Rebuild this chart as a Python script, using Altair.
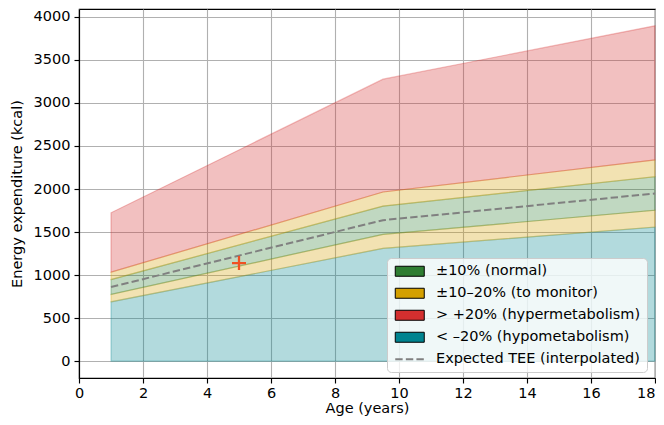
import altair as alt
import pandas as pd

# ---- data ----
ages = [1, 9.5, 18]
expected_tee = [862, 1638, 1948]
measured_age = [5]
measured_tee = [1140]
x_ticks = [0, 2, 4, 6, 8, 10, 12, 14, 16, 18]
y_ticks = [0, 500, 1000, 1500, 2000, 2500, 3000, 3500, 4000]

# bands as fractions of the expected TEE
band_ids = ["hypo", "low_monitor", "normal", "high_monitor", "hyper"]
band_lo = [0.0, 0.8, 0.9, 1.1, 1.2]
band_hi = [0.8, 0.9, 1.1, 1.2, 2.0]
band_colors = ["#00838f", "#d4a000", "#2e7d32", "#d4a000", "#d32f2f"]

legend_labels = ["±10% (normal)", "±10–20% (to monitor)", "> +20% (hypermetabolism)",
                 "< –20% (hypometabolism)", "Expected TEE (interpolated)"]
legend_fills = ["#2e7d32", "#d4a000", "#d32f2f", "#00838f", "#808080"]
legend_strokes = ["black", "black", "black", "black", "transparent"]
rect_path = "M-2.9,-1H2.9V1H-2.9Z"
dash_path = ("M-2.9,-0.2H-1.42V0.2H-2.9Z M-0.78,-0.2H0.7V0.2H-0.78Z "
             "M1.33,-0.2H2.81V0.2H1.33Z")
legend_shapes = [rect_path, rect_path, rect_path, rect_path, dash_path]

FONT = "DejaVu Sans"
FS = 14.5

xscale = alt.Scale(domain=[0, 18], nice=False, zero=False)
yscale = alt.Scale(domain=[-195, 4091], nice=False, zero=False)
xaxis = alt.Axis(values=x_ticks, title="Age (years)", format="d", labelFlush=False,
                 labelAlign={"condition": {"test": "datum.value >= 18", "value": "right"},
                             "value": "center"})
yaxis = alt.Axis(values=y_ticks, title="Energy expenditure (kcal)", format="d")

layers = []
for bid, lo, hi, col in zip(band_ids, band_lo, band_hi, band_colors):
    df = pd.DataFrame({
        "x": ages,
        "lo": [e * lo for e in expected_tee],
        "hi": [e * hi for e in expected_tee],
    })
    layers.append(
        alt.Chart(df).mark_area(fill=col, stroke=col, fillOpacity=0.3,
                                strokeOpacity=0.3, strokeWidth=1.2)
        .encode(x=alt.X("x:Q", scale=xscale, axis=xaxis),
                y=alt.Y("lo:Q", scale=yscale, axis=yaxis),
                y2="hi:Q")
    )

line_df = pd.DataFrame({"x": ages, "lo": expected_tee})
layers.append(
    alt.Chart(line_df).mark_line(color="#808080", strokeWidth=2, strokeDash=[7.4, 3.2])
    .encode(x="x:Q", y="lo:Q")
)

pt_df = pd.DataFrame({"x": measured_age, "lo": measured_tee})
layers.append(
    alt.Chart(pt_df).mark_point(shape="M-1,0H1M0,-1V1", filled=False, stroke="#f05022",
                                strokeWidth=2.3, size=196, opacity=1)
    .encode(x="x:Q", y="lo:Q")
)

leg_df = pd.DataFrame({"label": legend_labels, "x": [None] * 5, "lo": [None] * 5})
leg = alt.Legend(title=None, orient="none", legendX=308, legendY=249,
                 fillColor="rgba(255,255,255,0.8)", strokeColor="#cccccc",
                 cornerRadius=4, padding=6, labelFont=FONT, labelFontSize=FS,
                 labelColor="black", labelOffset=19, labelLimit=400, rowPadding=6,
                 symbolSize=100, symbolOffset=9.5, symbolStrokeWidth=1,
                 symbolOpacity=1, zindex=2)
layers.append(
    alt.Chart(leg_df).mark_point(filled=True, size=100, opacity=1, strokeWidth=1)
    .encode(
        x="x:Q", y="lo:Q",
        fill=alt.Fill("label:N", scale=alt.Scale(domain=legend_labels, range=legend_fills), legend=leg),
        stroke=alt.Stroke("label:N", scale=alt.Scale(domain=legend_labels, range=legend_strokes), legend=leg),
        shape=alt.Shape("label:N", scale=alt.Scale(domain=legend_labels, range=legend_shapes), legend=leg),
    )
)

chart = (
    alt.layer(*layers)
    .properties(width=576, height=369,
                padding={"left": 71, "top": 1, "right": 1, "bottom": 39},
                autosize=alt.AutoSizeParams(type="none"))
    .configure_view(stroke="black", strokeWidth=1.15)
    .configure_axis(grid=True, gridColor="#b0b0b0", gridWidth=1.1, gridOpacity=1,
                    domainColor="black", domainWidth=1.15, tickColor="black",
                    tickWidth=1.15, tickSize=5, labelPadding=4,
                    labelFont=FONT, labelFontSize=FS, labelColor="black",
                    titleFont=FONT, titleFontSize=FS, titleFontWeight="normal",
                    titleColor="black", zindex=1)
    .configure_axisY(titlePadding=9)
    .configure_axisX(titlePadding=2, labelPadding=3)
)

chart.save("out.html", embed_options={"renderer": "svg", "actions": False})
